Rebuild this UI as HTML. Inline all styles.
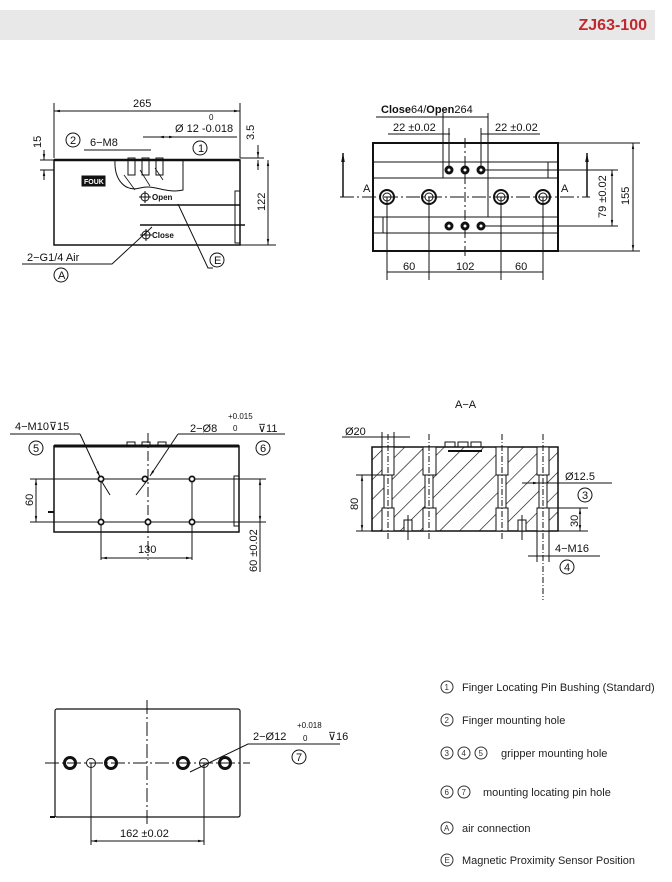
<!DOCTYPE html>
<html><head><meta charset="utf-8"><style>
html,body{margin:0;padding:0;background:#fff;width:672px;height:882px;overflow:hidden}
svg{display:block}
.t{font-family:"Liberation Sans Narrow","Liberation Sans",sans-serif;font-size:11px;fill:#111}
.s{font-family:"Liberation Sans Narrow","Liberation Sans",sans-serif;font-size:8px;fill:#111}
.lg{font-family:"Liberation Sans",sans-serif;font-size:10.5px;fill:#333}
</style></head><body>
<svg width="672" height="882" viewBox="0 0 672 882" xmlns="http://www.w3.org/2000/svg">
<defs>
<pattern id="h" width="14" height="14" patternUnits="userSpaceOnUse" patternTransform="rotate(45)">
<line x1="0" y1="0" x2="0" y2="14" stroke="#111" stroke-width="1.3"/>
</pattern>
<marker id="a" viewBox="0 0 10 10" refX="10" refY="5" markerWidth="6" markerHeight="6" orient="auto-start-reverse"><path d="M0,3 L10,5 L0,7z" fill="#111"/></marker>
</defs>
<rect x="0" y="10" width="655" height="30" fill="#e8e8e8"/>
<text x="647" y="30" text-anchor="end" style="font-family:'Liberation Sans',sans-serif;font-weight:bold;font-size:16px;fill:#c0282d">ZJ63-100</text>

<g stroke="#111" fill="none" stroke-width="1">
<!-- VIEW 1 -->
<rect x="54" y="160" width="186" height="85" stroke-width="1.5"/>
<line x1="54" y1="160" x2="240" y2="160" stroke-width="2.5"/>
<line x1="54" y1="103" x2="54" y2="158"/><line x1="240" y1="103" x2="240" y2="158"/>
<line x1="54" y1="111" x2="240" y2="111" marker-start="url(#a)" marker-end="url(#a)"/>
<line x1="143" y1="137" x2="237" y2="137"/><line x1="158" y1="137" x2="175" y2="137" marker-start="url(#a)" marker-end="url(#a)"/>
<line x1="84" y1="150" x2="151" y2="150"/>
<line x1="40" y1="160" x2="54" y2="160"/><line x1="40" y1="170" x2="54" y2="170"/>
<line x1="44" y1="150" x2="44" y2="160" marker-end="url(#a)"/><line x1="44" y1="180" x2="44" y2="170" marker-end="url(#a)"/>
<line x1="240" y1="158" x2="264" y2="158"/><line x1="240" y1="245" x2="276" y2="245"/>
<line x1="258" y1="145" x2="258" y2="158" marker-end="url(#a)"/><line x1="258" y1="170" x2="258" y2="160" marker-end="url(#a)"/>
<line x1="268" y1="160" x2="268" y2="245" marker-start="url(#a)" marker-end="url(#a)"/>
<path d="M115,160 C114,180 125,192 140,188 C155,184 165,194 183,190 L183,160"/>
<path d="M124,175 L135,190 M140,170 L150,186 M155,168 L163,180" stroke-width=".8"/>
<rect x="128" y="158" width="7" height="17"/><rect x="142" y="158" width="7" height="17"/><rect x="156" y="158" width="7" height="17"/>
<rect x="82" y="176" width="23" height="10" fill="#111"/>
<circle cx="145" cy="197" r="4"/><line x1="139" y1="197" x2="151" y2="197"/><line x1="145" y1="191" x2="145" y2="203"/>
<line x1="140" y1="205" x2="240" y2="205" stroke-width="1.5"/>
<line x1="140" y1="225" x2="245" y2="225" stroke-width="1.5"/>
<circle cx="146" cy="235" r="4"/><line x1="140" y1="235" x2="152" y2="235"/><line x1="146" y1="229" x2="146" y2="241"/>
<rect x="235" y="191" width="5" height="52"/>
<polyline points="22,264 112,264 152,227"/>
<polyline points="178,204 208,268 213,268"/>
<!-- VIEW 2 -->
<rect x="373" y="143" width="185" height="108" stroke-width="2"/>
<line x1="373" y1="162" x2="558" y2="162"/><line x1="373" y1="178" x2="558" y2="178"/>
<line x1="373" y1="217" x2="558" y2="217"/><line x1="373" y1="233" x2="558" y2="233"/>
<line x1="443" y1="162" x2="443" y2="178"/><line x1="548" y1="162" x2="548" y2="178"/>
<line x1="383" y1="217" x2="383" y2="233"/>
<line x1="488" y1="113" x2="488" y2="217"/><line x1="443" y1="113" x2="443" y2="162"/>
<line x1="465" y1="138" x2="465" y2="258" stroke-dasharray="10,3,2,3"/>
<line x1="340" y1="197" x2="590" y2="197" stroke-dasharray="14,3,2,3"/>
<line x1="376" y1="117" x2="488" y2="117"/>
<line x1="388" y1="134" x2="450" y2="134"/><line x1="481" y1="134" x2="540" y2="134"/>
<line x1="449" y1="128" x2="449" y2="170"/><line x1="481" y1="128" x2="481" y2="170"/>
<line x1="343" y1="197" x2="343" y2="153" marker-end="url(#a)" stroke-width="1.5"/>
<line x1="587" y1="197" x2="587" y2="153" marker-end="url(#a)" stroke-width="1.5"/>
<line x1="558" y1="143" x2="640" y2="143"/><line x1="558" y1="251" x2="640" y2="251"/>
<line x1="633" y1="143" x2="633" y2="251" marker-start="url(#a)" marker-end="url(#a)"/>
<line x1="481" y1="170" x2="618" y2="170"/><line x1="481" y1="226" x2="618" y2="226"/>
<line x1="612" y1="170" x2="612" y2="226" marker-start="url(#a)" marker-end="url(#a)"/>
<line x1="387" y1="197" x2="387" y2="280"/><line x1="429" y1="197" x2="429" y2="280"/>
<line x1="501" y1="197" x2="501" y2="280"/><line x1="543" y1="197" x2="543" y2="280"/>
<line x1="387" y1="272" x2="543" y2="272"/>
<circle cx="387" cy="197" r="7" stroke-width="2"/><circle cx="387" cy="197" r="4"/>
<circle cx="429" cy="197" r="7" stroke-width="2"/><circle cx="429" cy="197" r="4"/>
<circle cx="501" cy="197" r="7" stroke-width="2"/><circle cx="501" cy="197" r="4"/>
<circle cx="543" cy="197" r="7" stroke-width="2"/><circle cx="543" cy="197" r="4"/>
<!-- VIEW 3 -->
<rect x="54" y="446" width="185" height="86" stroke-width="1.5"/>
<line x1="54" y1="446" x2="239" y2="446" stroke-width="3"/>
<rect x="127" y="442" width="8" height="4"/><rect x="142" y="442" width="8" height="4"/><rect x="158" y="442" width="8" height="4"/>
<rect x="234" y="476" width="5" height="50"/>
<line x1="148" y1="433" x2="148" y2="560" stroke-dasharray="10,3,2,3"/>
<line x1="30" y1="479" x2="266" y2="479"/><line x1="30" y1="522" x2="266" y2="522"/>
<line x1="36" y1="479" x2="36" y2="522" marker-start="url(#a)" marker-end="url(#a)"/>
<line x1="48" y1="512" x2="54" y2="512" stroke-width="2"/>
<line x1="260" y1="479" x2="260" y2="522" marker-start="url(#a)" marker-end="url(#a)"/><line x1="260" y1="522" x2="260" y2="572"/>
<line x1="101" y1="479" x2="101" y2="560"/><line x1="192" y1="479" x2="192" y2="560"/>
<line x1="101" y1="558" x2="192" y2="558" marker-start="url(#a)" marker-end="url(#a)"/>
<line x1="10" y1="434" x2="80" y2="434"/><polyline points="80,434 100,477" marker-end="url(#a)"/><line x1="102" y1="482" x2="110" y2="495"/>
<line x1="178" y1="434" x2="285" y2="434"/><polyline points="178,434 150,476" marker-end="url(#a)"/><line x1="146" y1="482" x2="136" y2="495"/>
<!-- SECTION -->
<rect x="372" y="447" width="186" height="84" fill="url(#h)" stroke-width="1.5"/>
<g fill="#fff">
<rect x="382" y="447" width="12" height="28"/><rect x="384" y="475" width="8" height="33"/><rect x="382" y="508" width="12" height="23"/>
<rect x="423" y="447" width="13" height="28"/><rect x="425" y="475" width="8" height="33"/><rect x="423" y="508" width="13" height="23"/>
<rect x="496" y="447" width="12" height="28"/><rect x="498" y="475" width="8" height="33"/><rect x="496" y="508" width="12" height="23"/>
<rect x="537" y="447" width="12" height="28"/><rect x="539" y="475" width="8" height="33"/><rect x="537" y="508" width="12" height="23"/>
<rect x="404" y="520" width="8" height="11"/><rect x="518" y="520" width="8" height="11"/>
</g>
<rect x="445" y="442" width="10" height="5"/><rect x="458" y="442" width="10" height="5"/><rect x="471" y="442" width="10" height="5"/>
<line x1="448" y1="451" x2="482" y2="451" stroke-width="2"/>
<g stroke-dasharray="6,2,1,2"><line x1="388" y1="434" x2="388" y2="540"/><line x1="429" y1="434" x2="429" y2="540"/><line x1="502" y1="434" x2="502" y2="540"/><line x1="543" y1="434" x2="543" y2="600"/></g>
<line x1="408" y1="515" x2="408" y2="540"/><line x1="522" y1="515" x2="522" y2="540"/>
<line x1="342" y1="437" x2="410" y2="437"/><line x1="382" y1="432" x2="382" y2="447"/><line x1="394" y1="432" x2="394" y2="447"/>
<line x1="356" y1="475" x2="382" y2="475"/><line x1="356" y1="531" x2="372" y2="531"/>
<line x1="362" y1="475" x2="362" y2="531" marker-start="url(#a)" marker-end="url(#a)"/>
<line x1="549" y1="508" x2="588" y2="508"/><line x1="558" y1="531" x2="588" y2="531"/>
<line x1="580" y1="508" x2="580" y2="531" marker-start="url(#a)" marker-end="url(#a)"/>
<line x1="522" y1="483" x2="612" y2="483"/><line x1="530" y1="483" x2="539" y2="483" marker-end="url(#a)"/>
<line x1="537" y1="531" x2="537" y2="562"/><line x1="549" y1="531" x2="549" y2="562"/>
<line x1="528" y1="556" x2="600" y2="556"/>
<!-- VIEW 5 -->
<rect x="55" y="709" width="185" height="108" rx="2" stroke-width="1.2"/>
<line x1="50" y1="817" x2="55" y2="817" stroke-width="2"/>
<line x1="45" y1="763" x2="250" y2="763" stroke-dasharray="14,3,2,3"/>
<line x1="147" y1="700" x2="147" y2="825" stroke-dasharray="14,3,2,3"/>
<line x1="91" y1="763" x2="91" y2="845"/><line x1="204" y1="763" x2="204" y2="845"/>
<line x1="91" y1="841" x2="204" y2="841" marker-start="url(#a)" marker-end="url(#a)"/>
<polyline points="340,744 248,744 190,772"/>
<circle cx="70" cy="763" r="5.5" stroke-width="3"/><circle cx="111" cy="763" r="5.5" stroke-width="3"/>
<circle cx="183" cy="763" r="5.5" stroke-width="3"/><circle cx="225" cy="763" r="5.5" stroke-width="3"/>
<circle cx="91" cy="763" r="4.5"/><circle cx="204" cy="763" r="4.5"/>
<!-- callout circles -->
<circle cx="200" cy="148" r="7"/><circle cx="73" cy="140" r="7"/><circle cx="61" cy="275" r="7"/><circle cx="217" cy="260" r="7"/>
<circle cx="36" cy="448" r="7"/><circle cx="263" cy="448" r="7"/><circle cx="585" cy="495" r="7"/><circle cx="567" cy="567" r="7"/><circle cx="299" cy="757" r="7"/>
<g stroke="#333"><circle cx="447" cy="687" r="6"/><circle cx="447" cy="720" r="6"/><circle cx="447" cy="753" r="6"/><circle cx="464" cy="753" r="6"/><circle cx="481" cy="753" r="6"/><circle cx="447" cy="792" r="6"/><circle cx="464" cy="792" r="6"/><circle cx="447" cy="828" r="6"/><circle cx="447" cy="860" r="6"/></g>
</g>
<g fill="#111">
<circle cx="449" cy="170" r="4.5"/><circle cx="465" cy="170" r="4.5"/><circle cx="481" cy="170" r="4.5"/>
<circle cx="449" cy="226" r="4.5"/><circle cx="465" cy="226" r="4.5"/><circle cx="481" cy="226" r="4.5"/>
<circle cx="101" cy="479" r="3.5"/><circle cx="145" cy="479" r="3.5"/><circle cx="192" cy="479" r="3.5"/>
<circle cx="101" cy="522" r="3.5"/><circle cx="148" cy="522" r="3.5"/><circle cx="192" cy="522" r="3.5"/>
</g>
<g fill="#fff"><circle cx="449" cy="170" r="1.5"/><circle cx="465" cy="170" r="1.5"/><circle cx="481" cy="170" r="1.5"/><circle cx="449" cy="226" r="1.5"/><circle cx="465" cy="226" r="1.5"/><circle cx="481" cy="226" r="1.5"/>
<circle cx="101" cy="479" r="1.8"/><circle cx="145" cy="479" r="1.8"/><circle cx="192" cy="479" r="1.8"/><circle cx="101" cy="522" r="1.8"/><circle cx="148" cy="522" r="1.8"/><circle cx="192" cy="522" r="1.8"/></g>

<!-- texts -->
<text class="t" x="133" y="107">265</text>
<text class="s" x="209" y="120">0</text>
<text class="t" x="175" y="132">Ø 12  -0.018</text>
<text class="t" x="70" y="144" font-size="10">2</text>
<text class="t" x="90" y="146">6−M8</text>
<text class="t" x="198" y="152" font-size="10">1</text>
<text class="t" transform="translate(41,148) rotate(-90)">15</text>
<text class="t" transform="translate(254,140) rotate(-90)">3.5</text>
<text class="t" transform="translate(265,211) rotate(-90)">122</text>
<text x="84" y="184" style="font-family:'Liberation Sans';font-size:7px;fill:#fff;font-weight:bold">FOUK</text>
<text class="s" x="152" y="200" font-weight="bold">Open</text>
<text class="s" x="152" y="238" font-weight="bold">Close</text>
<text class="t" x="27" y="261">2−G1/4 Air</text>
<text class="t" x="58" y="279" font-size="10">A</text>
<text class="t" x="214" y="264" font-size="10">E</text>
<text class="t" x="381" y="113"><tspan font-weight="bold">Close</tspan>64/<tspan font-weight="bold">Open</tspan>264</text>
<text class="t" x="393" y="131">22  ±0.02</text>
<text class="t" x="495" y="131">22  ±0.02</text>
<text class="t" x="363" y="192">A</text><text class="t" x="561" y="192">A</text>
<text class="t" x="403" y="270">60</text><text class="t" x="456" y="270">102</text><text class="t" x="515" y="270">60</text>
<text class="t" transform="translate(629,205) rotate(-90)">155</text>
<text class="t" transform="translate(606,218) rotate(-90)">79  ±0.02</text>
<text class="t" x="15" y="430">4−M10⊽15</text>
<text class="t" x="33" y="452" font-size="10">5</text>
<text class="t" x="190" y="432">2−Ø8</text>
<text class="s" x="228" y="419">+0.015</text><text class="s" x="233" y="431">0</text>
<text class="t" x="258" y="432">⊽11</text>
<text class="t" x="260" y="452" font-size="10">6</text>
<text class="t" transform="translate(33,506) rotate(-90)">60</text>
<text class="t" x="138" y="553">130</text>
<text class="t" transform="translate(257,572) rotate(-90)">60  ±0.02</text>
<text class="t" x="455" y="408">A−A</text>
<text class="t" x="345" y="435">Ø20</text>
<text class="t" transform="translate(358,510) rotate(-90)">80</text>
<text class="t" x="565" y="480">Ø12.5</text>
<text class="t" x="582" y="499" font-size="10">3</text>
<text class="t" transform="translate(578,527) rotate(-90)">30</text>
<text class="t" x="555" y="552">4−M16</text>
<text class="t" x="564" y="571" font-size="10">4</text>
<text class="t" x="120" y="837">162  ±0.02</text>
<text class="t" x="253" y="740">2−Ø12</text>
<text class="s" x="297" y="728">+0.018</text><text class="s" x="303" y="741">0</text>
<text class="t" x="328" y="740">⊽16</text>
<text class="t" x="296" y="761" font-size="10">7</text>

<g class="lg" style="font-size:8px">
<text x="444.5" y="690">1</text><text x="444.5" y="723">2</text><text x="444.5" y="756">3</text><text x="461.5" y="756">4</text><text x="478.5" y="756">5</text><text x="444.5" y="795">6</text><text x="461.5" y="795">7</text><text x="444" y="831">A</text><text x="444.5" y="863">E</text>
</g>
<g class="lg" style="font-size:11px;fill:#222">
<text x="462" y="691">Finger Locating Pin Bushing (Standard)</text>
<text x="462" y="724">Finger mounting hole</text>
<text x="501" y="757">gripper mounting hole</text>
<text x="483" y="796">mounting locating pin hole</text>
<text x="462" y="832">air connection</text>
<text x="462" y="864">Magnetic Proximity Sensor Position</text>
</g>
</svg>
</body></html>
